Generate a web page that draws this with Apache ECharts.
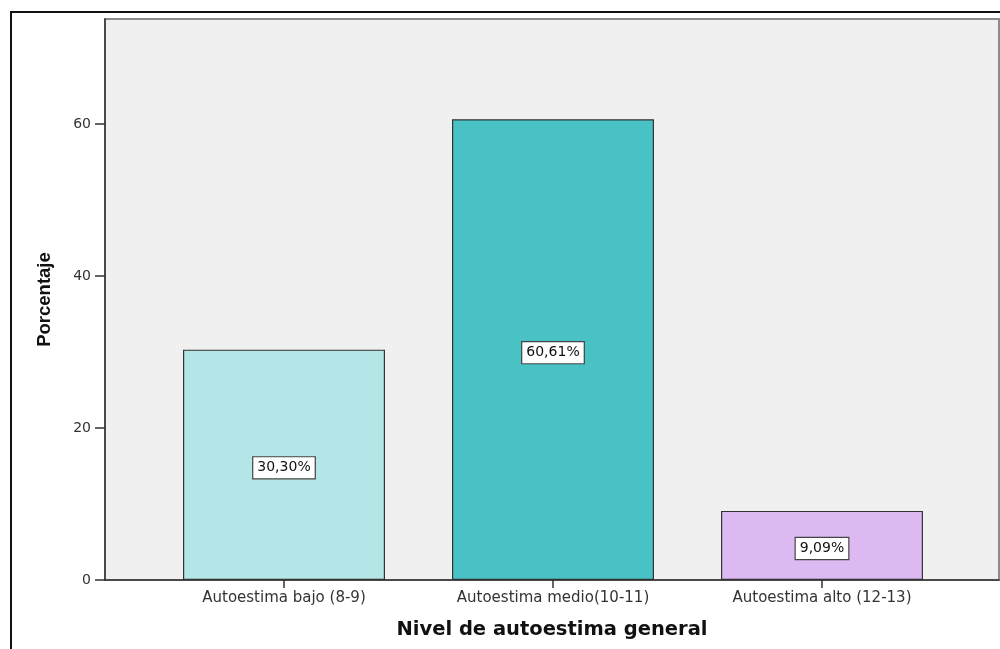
<!DOCTYPE html>
<html>
<head>
<meta charset="utf-8">
<script src="https://cdn.jsdelivr.net/npm/echarts@6/dist/echarts.min.js"></script>
<style>
  html, body { margin: 0; padding: 0; background: #fff; overflow: hidden; }
  .frame {
    position: absolute;
    left: 10px;
    top: 11px;
    width: 1100px;
    height: 800px;
    border: 2px solid #111;
  }
  #chart { position: absolute; left: 0; top: 0; width: 1000px; height: 649px; }
</style>
</head>
<body>
<div class="frame"></div>
<div id="chart"></div>
<script>
// datos
const categories = ['Autoestima bajo (8-9)', 'Autoestima medio(10-11)', 'Autoestima alto (12-13)']
const percentages = [30.30, 60.61, 9.09]
const barColors = ['#b4e6e7', '#48c2c5', '#ddb9f2']
const yTicks = [0, 20, 40, 60]

const yMax = 73.8
const font = 'DejaVu Sans, sans-serif'

const chart = echarts.init(document.getElementById('chart'))

const option = {
  animation: false,
  grid: [
    {
      // panel gris de fondo
      left: 105, right: 1, top: 19, bottom: 69,
      outerBoundsMode: 'none',
      show: true,
      backgroundColor: '#f0f0f0',
      borderColor: '#8c8c8c',
      borderWidth: 2
    },
    {
      left: 149.5, right: 43.5, top: 19, bottom: 69,
      outerBoundsMode: 'none'
    }
  ],
  xAxis: [
    {
      gridIndex: 0,
      type: 'value',
      min: 0,
      max: 1,
      axisLine: { show: true, lineStyle: { color: '#333', width: 1.5 } },
      axisTick: { show: false },
      axisLabel: { show: false },
      splitLine: { show: false },
      name: 'Nivel de autoestima general',
      nameLocation: 'middle',
      nameGap: 40,
      nameTextStyle: { fontFamily: font, fontSize: 19.5, fontWeight: 'bold', color: '#111' }
    },
    {
      gridIndex: 1,
      type: 'category',
      data: categories,
      axisLine: { show: false },
      axisTick: { show: true, alignWithLabel: true, length: 8, lineStyle: { color: '#333', width: 1.5 } },
      axisLabel: { margin: 11, fontFamily: font, fontSize: 15, color: '#333' }
    }
  ],
  yAxis: [
    {
      gridIndex: 0,
      type: 'value',
      min: 0,
      max: yMax,
      interval: 20,
      axisLine: { show: true, lineStyle: { color: '#333', width: 1.5 } },
      axisTick: { show: true, length: 10, customValues: yTicks, lineStyle: { color: '#333', width: 1.5 } },
      axisLabel: { customValues: yTicks, margin: 14, fontFamily: font, fontSize: 14, color: '#333' },
      splitLine: { show: false },
      name: 'Porcentaje',
      nameLocation: 'middle',
      nameGap: 51,
      nameRotate: 90,
      nameTextStyle: { fontFamily: 'Liberation Sans, Arial, sans-serif', fontSize: 18.5, fontWeight: 'bold', color: '#111' }
    },
    {
      gridIndex: 1,
      type: 'value',
      min: 0,
      max: yMax,
      show: false
    }
  ],
  series: [
    {
      type: 'bar',
      xAxisIndex: 1,
      yAxisIndex: 1,
      barWidth: 202,
      data: percentages.map((v, i) => ({
        value: v,
        itemStyle: { color: barColors[i] }
      })),
      itemStyle: { borderColor: '#333', borderWidth: 1.2 },
      label: {
        show: true,
        position: 'inside',
        offset: [0, 3],
        formatter: p => p.value.toFixed(2).replace('.', ',') + '%',
        fontFamily: font,
        fontSize: 14,
        color: '#111',
        backgroundColor: '#fff',
        borderColor: '#444',
        borderWidth: 1.2,
        padding: [4, 4, 3, 4]
      }
    }
  ]
}

chart.setOption(option)
</script>
</body>
</html>
